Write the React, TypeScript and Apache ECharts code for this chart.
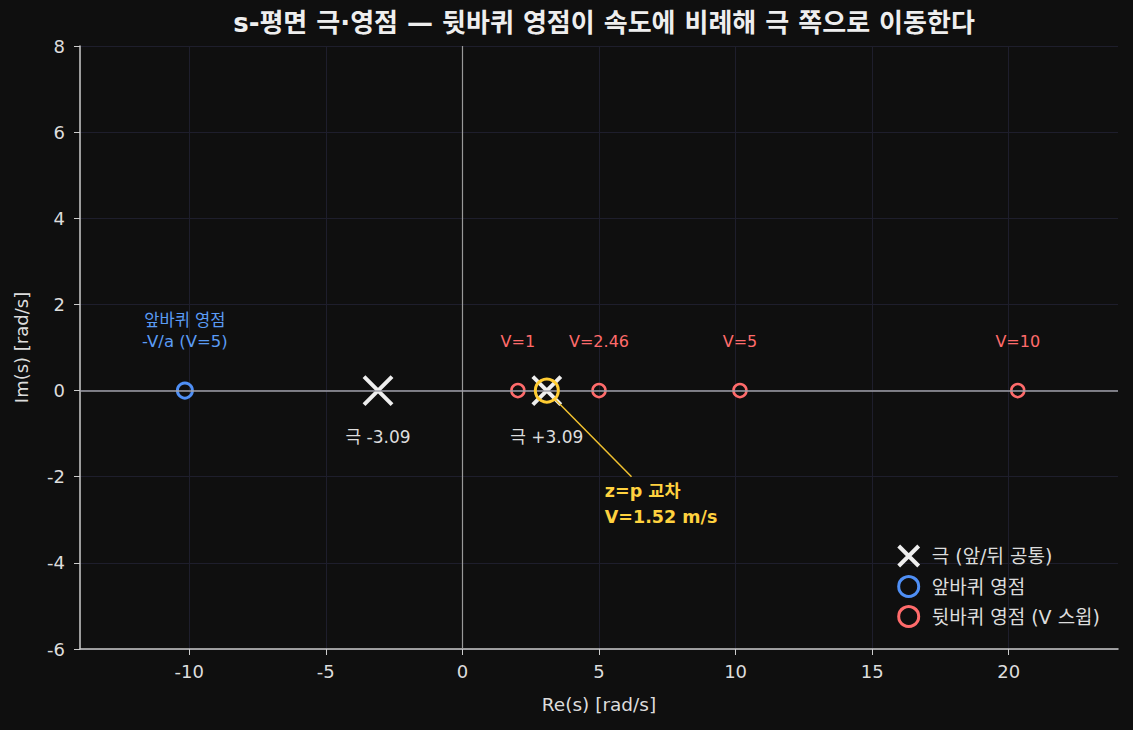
import { useEffect, useRef } from "react";
import * as echarts from "echarts";

// ---- data ----
const poleRe = [-3.09, 3.09];
const poleLabels = ["극 -3.09", "극 +3.09"];
const frontZeroRe = [-10.16];
const frontZeroLabels = ["앞바퀴 영점\n-V/a (V=5)"];
const rearSpeeds = [1, 2.46, 5, 10];
const rearZeroRe = [2.03, 5.0, 10.16, 20.33];
const crossingRe = 3.09;
const crossingSpeed = 1.52;
const xTicks = [-10, -5, 0, 5, 10, 15, 20];

const FONT = "'DejaVu Sans', 'Noto Sans CJK KR', sans-serif";
const BG = "#0f0f0f";
const POLE = "#eeeeee";
const BLUE = "#4f8ff5";
const RED = "#ff6b6b";
const YELLOW = "#ffcc33";
const TEXT = "#dddddd";

const NAME_POLE = "극 (앞/뒤 공통)";
const NAME_FRONT = "앞바퀴 영점";
const NAME_REAR = "뒷바퀴 영점 (V 스윕)";

export default function App() {
  const ref = useRef<HTMLDivElement>(null);

  useEffect(() => {
    if (!ref.current) return;
    const chart = echarts.init(ref.current, null, { renderer: "svg" });
    const crossSym = "path://M0,0L20,20M20,0L0,20";

    const option: any = {
      animation: false,
      backgroundColor: BG,
      textStyle: { fontFamily: FONT },
      title: {
        text: "s-평면 극·영점 — 뒷바퀴 영점이 속도에 비례해 극 쪽으로 이동한다",
        left: 599,
        textAlign: "center",
        top: 5,
        textStyle: { color: "#eeeeee", fontSize: 26, fontWeight: "bold", fontFamily: FONT },
      },
      grid: { left: 80, right: 15, top: 46, bottom: 81, containLabel: false },
      legend: {
        orient: "vertical",
        right: 28,
        bottom: 97,
        itemWidth: 22,
        itemHeight: 20,
        itemGap: 7,
        textStyle: { color: TEXT, fontSize: 19, fontFamily: FONT, padding: [0, 0, 0, 7] },
        data: [
          { name: NAME_POLE, itemStyle: { borderWidth: 4, borderColor: POLE, color: "transparent", opacity: 1 } },
          { name: NAME_FRONT, itemStyle: { borderWidth: 3, borderColor: BLUE, color: "transparent", opacity: 1 } },
          { name: NAME_REAR, itemStyle: { borderWidth: 3, borderColor: RED, color: "transparent", opacity: 1 } },
        ],
      },
      xAxis: {
        type: "value",
        min: -14,
        max: 24,
        name: "Re(s) [rad/s]",
        nameLocation: "middle",
        nameGap: 46,
        nameTextStyle: { color: TEXT, fontSize: 18.5, fontFamily: FONT },
        axisLine: { show: true, onZero: false, lineStyle: { color: "#cccccc", width: 1.5 } },
        axisTick: { show: true, customValues: xTicks, length: 6, lineStyle: { color: "#cccccc" } },
        axisLabel: { customValues: xTicks, color: TEXT, fontSize: 18, margin: 13, fontFamily: FONT },
        splitLine: { show: true, lineStyle: { color: "#1e1e2c", width: 1 } },
      },
      yAxis: {
        type: "value",
        min: -6,
        max: 8,
        interval: 2,
        name: "Im(s) [rad/s]",
        nameLocation: "middle",
        nameGap: 50,
        nameTextStyle: { color: TEXT, fontSize: 18, fontFamily: FONT },
        axisLine: { show: true, onZero: false, lineStyle: { color: "#cccccc", width: 1.5 } },
        axisTick: { show: true, length: 6, lineStyle: { color: "#cccccc" } },
        axisLabel: { color: TEXT, fontSize: 18, margin: 15, fontFamily: FONT },
        splitLine: { show: true, lineStyle: { color: "#1e1e2c", width: 1 } },
      },
      series: [
        {
          name: "axes0",
          type: "scatter",
          data: [],
          z: 1,
          markLine: {
            silent: true,
            symbol: "none",
            label: { show: false },
            data: [
              { xAxis: 0, lineStyle: { color: "#999999", width: 1.2, type: "solid" } },
              { yAxis: 0, lineStyle: { color: "#a0a0a8", width: 1.6, type: "solid" } },
            ],
          },
        },
        {
          name: NAME_FRONT,
          type: "scatter",
          z: 3,
          symbol: "circle",
          symbolSize: 15,
          itemStyle: { color: "transparent", borderColor: BLUE, borderWidth: 3, opacity: 1 },
          data: frontZeroRe.map((re, i) => ({ value: [re, 0], label: { formatter: frontZeroLabels[i] } })),
          label: {
            show: true,
            position: "top",
            distance: 30,
            color: "#5b9cf5",
            fontSize: 16.5,
            lineHeight: 21,
            align: "center",
            fontFamily: FONT,
          },
        },
        {
          name: NAME_REAR,
          type: "scatter",
          z: 3,
          symbol: "circle",
          symbolSize: 13,
          itemStyle: { color: "transparent", borderColor: RED, borderWidth: 2.5, opacity: 1 },
          data: rearZeroRe.map((re, i) => ({ value: [re, 0], label: { formatter: "V=" + rearSpeeds[i] } })),
          label: {
            show: true,
            position: "top",
            distance: 33,
            color: RED,
            fontSize: 16,
            fontFamily: FONT,
          },
        },
        {
          name: NAME_POLE,
          type: "scatter",
          z: 4,
          symbol: crossSym,
          symbolSize: 28,
          itemStyle: { color: "transparent", borderColor: POLE, borderWidth: 4, opacity: 1 },
          data: poleRe.map((re, i) => ({ value: [re, 0], label: { formatter: poleLabels[i] } })),
          label: {
            show: true,
            position: "bottom",
            distance: 22,
            color: TEXT,
            fontSize: 17,
            fontFamily: FONT,
          },
        },
        {
          name: "crossing",
          type: "scatter",
          z: 5,
          symbol: "circle",
          symbolSize: 23,
          itemStyle: { color: "transparent", borderColor: YELLOW, borderWidth: 3, opacity: 1 },
          data: [[crossingRe, 0]],
          label: {
            show: true,
            position: [71, 100],
            align: "left",
            verticalAlign: "top",
            formatter: "z=p 교차\nV=" + crossingSpeed + " m/s",
            color: "#ffd23f",
            fontSize: 17.5,
            fontWeight: "bold",
            lineHeight: 26,
            fontFamily: FONT,
          },
          markLine: {
            silent: true,
            symbol: "none",
            label: { show: false },
            lineStyle: { color: "#f2c230", width: 1.5, type: "solid", opacity: 1 },
            data: [[{ coord: [crossingRe + 0.3, -0.2] }, { coord: [crossingRe + 3.1, -2.0] }]],
          },
        },
      ],
    };
    chart.setOption(option);
    return () => chart.dispose();
  }, []);

  return <div ref={ref} style={{ width: 1133, height: 730, position: "absolute", left: 0, top: 0 }} />;
}
